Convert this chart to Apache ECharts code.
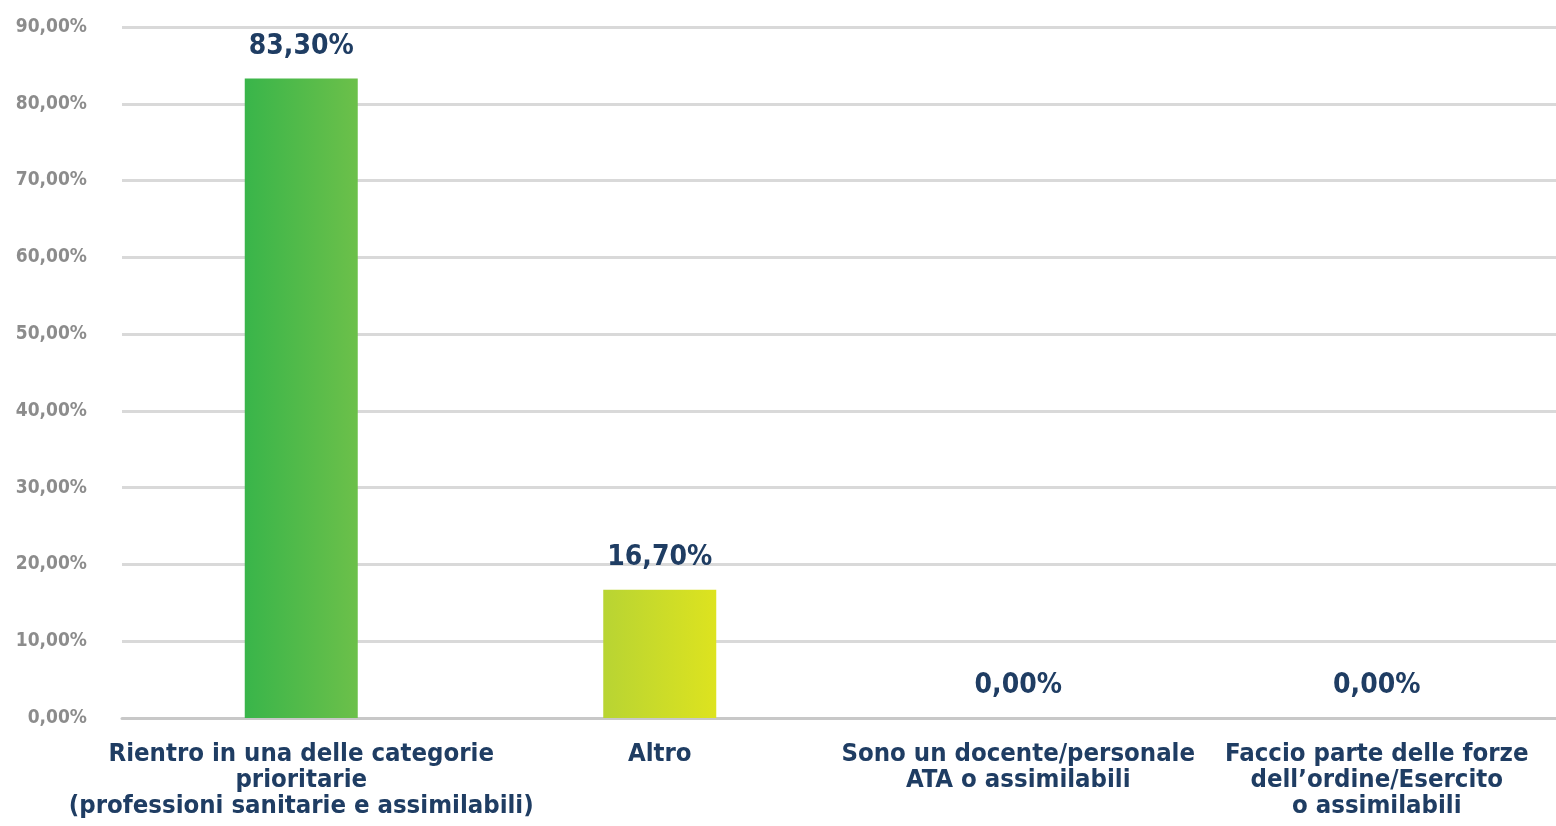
<!DOCTYPE html>
<html>
<head>
<meta charset="utf-8">
<script src="https://cdn.jsdelivr.net/npm/echarts@6/dist/echarts.min.js"></script>
<style>
  html, body { margin: 0; padding: 0; background: #fff; }
  #chart { width: 1556px; height: 826px; }
</style>
</head>
<body>
<div id="chart"></div>
<script>
const categories = [
  'Rientro in una delle categorie\nprioritarie\n(professioni sanitarie e assimilabili)',
  'Altro',
  'Sono un docente/personale\nATA o assimilabili',
  'Faccio parte delle forze\ndell\u2019ordine/Esercito\no assimilabili'
]
const values = [83.3, 16.7, 0, 0]
const barColors = [
  ['#39b54a', '#6cc04a'],
  ['#b8d433', '#dde31f']
]

const fontFamily = '"Liberation Sans Narrow", "DejaVu Sans Condensed", sans-serif'
const fmt = (v) => v.toFixed(2).replace('.', ',') + '%'

const chart = echarts.init(document.getElementById('chart'))

const option = {
  backgroundColor: '#fff',
  animation: false,
  grid: { left: 122, right: 0, top: 27, bottom: 108 },
  xAxis: {
    type: 'category',
    data: categories,
    axisLine: { lineStyle: { color: '#c8c8c8', width: 3 } },
    axisTick: { show: false },
    axisLabel: {
      interval: 0,
      margin: 23,
      color: '#1f3d63',
      fontFamily,
      fontWeight: 'bold',
      fontSize: 25.5,
      lineHeight: 26
    }
  },
  yAxis: {
    type: 'value',
    min: 0,
    max: 90,
    interval: 10,
    axisLine: { show: false },
    axisTick: { show: false },
    splitLine: { lineStyle: { color: '#d9d9d9', width: 3 } },
    axisLabel: {
      margin: 35,
      color: '#8c8c8c',
      fontFamily,
      fontWeight: 'bold',
      fontSize: 19,
      formatter: (v) => fmt(v)
    }
  },
  series: [{
    type: 'bar',
    barWidth: 113,
    data: values.map((v, i) => ({
      value: v,
      itemStyle: barColors[i] ? {
        color: new echarts.graphic.LinearGradient(0, 0, 1, 0, [
          { offset: 0, color: barColors[i][0] },
          { offset: 1, color: barColors[i][1] }
        ])
      } : { color: 'transparent' }
    })),
    label: {
      show: true,
      position: 'top',
      distance: 18,
      color: '#1f3d63',
      fontFamily,
      fontWeight: 'bold',
      fontSize: 28,
      formatter: (p) => fmt(p.value)
    }
  }]
}

chart.setOption(option)
window.addEventListener('resize', () => chart.resize())
</script>
</body>
</html>
